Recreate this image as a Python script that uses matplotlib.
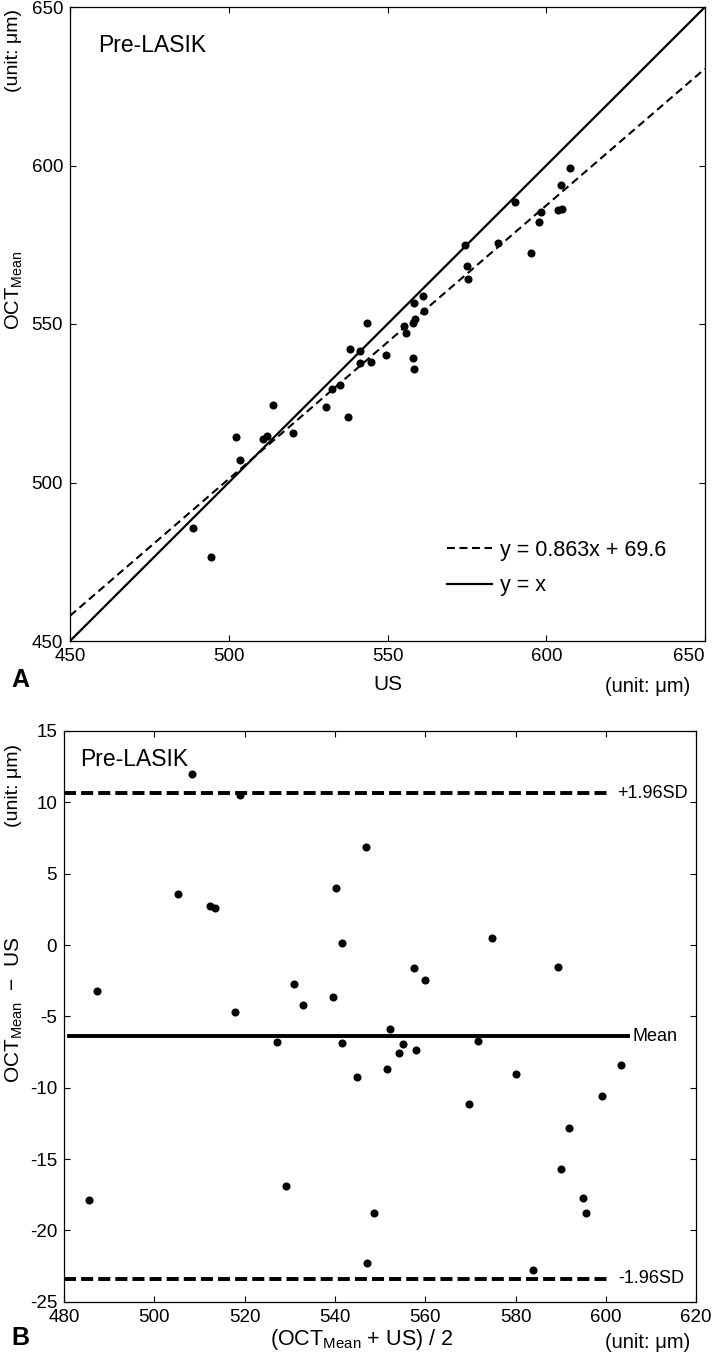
import numpy as np
import matplotlib
matplotlib.use('Agg')
import matplotlib.pyplot as plt

plt.rcParams['font.family'] = ['Liberation Sans', 'DejaVu Sans']
plt.rcParams['mathtext.fontset'] = 'custom'
plt.rcParams['mathtext.rm'] = 'Liberation Sans'
plt.rcParams['mathtext.it'] = 'Liberation Sans'
plt.rcParams['axes.unicode_minus'] = False

# panel A: ultrasound vs OCT mean thickness (um)
us = [502.3, 513.8, 543.4, 503.4, 510.9, 512.1, 538.2, 541.4, 574.4, 488.8,
      520.3, 530.6, 532.4, 535.0, 541.3, 544.9, 549.5, 555.8, 555.1, 558.3,
      561.1, 590.1, 558.6, 558.0, 561.6, 575.1, 584.7, 575.3, 607.5, 604.5,
      598.2, 597.8, 603.8, 494.5, 537.7, 558.1, 558.2, 605.1, 595.3]
oct_mean = [514.3, 524.3, 550.4, 507.0, 513.7, 514.7, 542.2, 541.6, 575.0, 485.6,
            515.5, 523.8, 529.6, 530.8, 537.7, 538.1, 540.3, 547.2, 549.3, 556.7,
            558.7, 588.5, 551.6, 550.4, 554.2, 568.3, 575.7, 564.1, 599.1, 593.9,
            585.4, 582.2, 586.1, 476.6, 520.8, 539.3, 535.9, 586.3, 572.5]
fit_slope, fit_icept = 0.863, 69.6

# panel B: Bland-Altman (mean of methods, difference)
ba_mean = [508.3, 519.0, 546.9, 505.2, 512.3, 513.4, 540.2, 541.5, 574.7, 487.2,
           517.9, 527.2, 531.0, 532.9, 539.5, 541.5, 544.9, 551.5, 552.2, 557.5,
           559.9, 589.3, 555.1, 554.2, 557.9, 571.7, 580.2, 569.7, 603.3, 599.2,
           591.8, 590.0, 594.9, 485.5, 529.2, 548.7, 547.0, 595.7, 583.9]
ba_diff = [12.0, 10.5, 6.9, 3.6, 2.75, 2.57, 4.0, 0.12, 0.51, -3.22,
           -4.72, -6.8, -2.73, -4.2, -3.64, -6.87, -9.27, -8.69, -5.89, -1.63,
           -2.45, -1.56, -6.92, -7.59, -7.36, -6.73, -9.02, -11.16, -8.41, -10.56,
           -12.85, -15.68, -17.7, -17.9, -16.9, -18.8, -22.3, -18.8, -22.8]
mean_diff = -6.4
upper_loa = 10.63
lower_loa = -23.4

W, H = 714, 1364
fig = plt.figure(figsize=(W / 100, H / 100), dpi=100)


def px(x, y):
    return x / W, 1 - y / H


def style_axes(ax):
    ax.tick_params(direction='in', length=4, width=0.8, labelsize=13.5,
                   top=True, right=True, pad=5)
    for s in ax.spines.values():
        s.set_linewidth(0.9)


# ---- panel A
axA = fig.add_axes([70 / W, 1 - 641 / H, 635 / W, 634 / H])
xs = np.array([450, 650])
axA.plot(xs, fit_slope * xs + fit_icept, color='black', lw=1.5,
         linestyle=(0, (3.8, 2.2)), label='y = 0.863x + 69.6')
axA.plot(xs, xs, color='black', lw=1.6, label='y = x')
axA.plot(us, oct_mean, 'o', color='black', ms=4.8, zorder=3)
axA.set_xlim(450, 650)
axA.set_ylim(450, 650)
axA.set_xticks(range(450, 651, 50))
axA.set_yticks(range(450, 651, 50))
style_axes(axA)
axA.get_xticklabels()[-1].set_horizontalalignment('right')
axA.text(0.045, 0.94, 'Pre-LASIK', transform=axA.transAxes, fontsize=16.5,
         va='center', ha='left')
axA.legend(loc='upper left', bbox_to_anchor=(0.594, 0.16), frameon=False,
           fontsize=15.5, handlelength=2.1, handletextpad=0.35,
           labelspacing=0.68, borderpad=0, borderaxespad=0)

fig.text(*px(14, 290), 'OCT$_{\\mathrm{Mean}}$', rotation=90, fontsize=14.5,
         ha='center', va='center')
fig.text(*px(14, 50), '(unit: μm)', rotation=90, fontsize=14,
         ha='center', va='center')
fig.text(*px(388, 684), 'US', fontsize=15, ha='center', va='center')
fig.text(*px(648, 686), '(unit: μm)', fontsize=14.5, ha='center', va='center')
fig.text(*px(20, 680), 'A', fontsize=18, fontweight='bold',
         ha='center', va='center')

# ---- panel B
axB = fig.add_axes([64 / W, 1 - 1301.75 / H, 632.2 / W, 570.8 / H])
axB.plot(ba_mean, ba_diff, 'o', color='black', ms=4.8, zorder=3)
axB.plot([480, 601], [upper_loa, upper_loa], color='black', lw=2.8,
         linestyle=(0, (3.1, 1.3)))
axB.plot([480, 601], [lower_loa, lower_loa], color='black', lw=2.8,
         linestyle=(0, (3.1, 1.3)))
axB.plot([481, 605], [mean_diff, mean_diff], color='black', lw=2.8)
axB.text(602.4, upper_loa, '+1.96SD', fontsize=13, va='center', ha='left')
axB.text(605.8, mean_diff, 'Mean', fontsize=13, va='center', ha='left')
axB.text(602.8, lower_loa, '-1.96SD', fontsize=13, va='center', ha='left')
axB.text(0.025, 0.95, 'Pre-LASIK', transform=axB.transAxes, fontsize=16.5,
         va='center', ha='left')
axB.set_xlim(480, 620)
axB.set_ylim(-25, 15)
axB.set_xticks(range(480, 621, 20))
axB.set_yticks(range(-25, 16, 5))
style_axes(axB)

fig.text(*px(14, 1010), 'OCT$_{\\mathrm{Mean}}$  \u2212  US', rotation=90,
         fontsize=15, ha='center', va='center')
fig.text(*px(14, 785), '(unit: μm)', rotation=90, fontsize=14,
         ha='center', va='center')
fig.text(*px(362, 1340), '(OCT$_{\\mathrm{Mean}}$ + US) / 2', fontsize=15.5,
         ha='center', va='center')
fig.text(*px(648, 1342), '(unit: μm)', fontsize=14.5, ha='center', va='center')
fig.text(*px(20, 1338), 'B', fontsize=18, fontweight='bold',
         ha='center', va='center')

fig.savefig('out.png', dpi=100)
